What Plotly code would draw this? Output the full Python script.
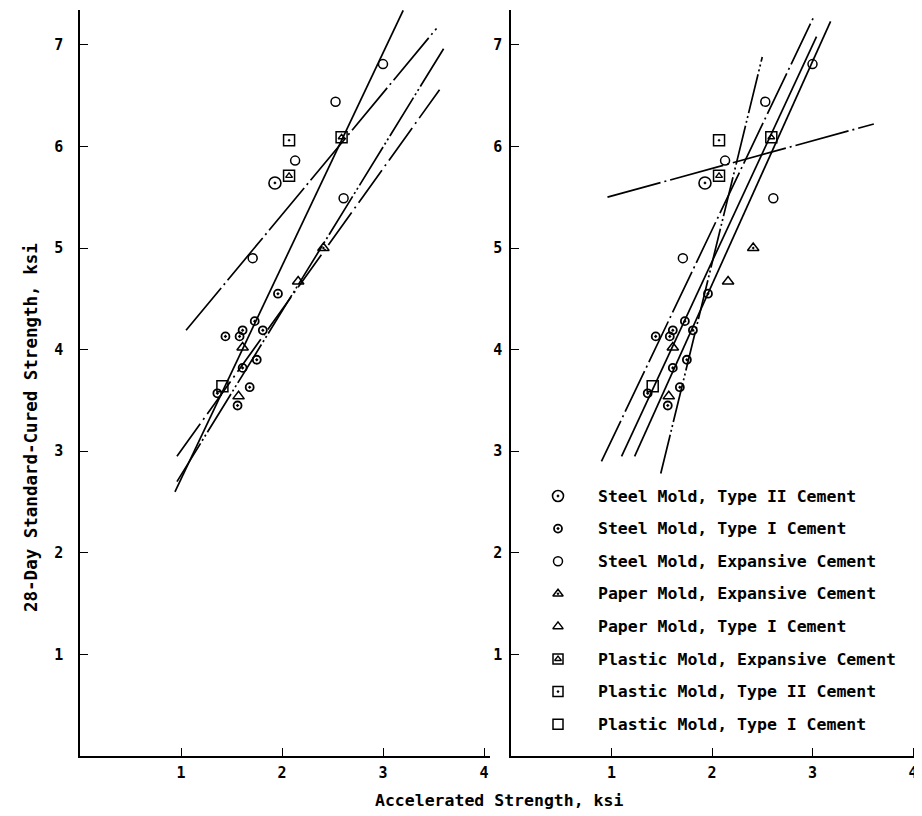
import plotly.graph_objects as go

# ---------------- data ----------------
steel_t2_x = [1.93]
steel_t2_y = [5.64]
steel_t1_x = [1.96, 1.44, 1.58, 1.61, 1.81, 1.73, 1.75, 1.61, 1.36, 1.68, 1.56]
steel_t1_y = [4.55, 4.13, 4.13, 4.19, 4.19, 4.28, 3.90, 3.82, 3.57, 3.63, 3.45]
steel_exp_x = [3.00, 2.53, 2.13, 2.61, 1.71]
steel_exp_y = [6.81, 6.44, 5.86, 5.49, 4.90]
paper_exp_x = [2.41]
paper_exp_y = [5.00]
paper_t1_x = [2.16, 1.61, 1.57]
paper_t1_y = [4.67, 4.02, 3.54]
plastic_exp_x = [2.07, 2.59]
plastic_exp_y = [5.71, 6.09]
plastic_t2_x = [2.07]
plastic_t2_y = [6.06]
plastic_t1_x = [1.41]
plastic_t1_y = [3.64]

legend_labels = [
    "Steel Mold, Type II Cement",
    "Steel Mold, Type I Cement",
    "Steel Mold, Expansive Cement",
    "Paper Mold, Expansive Cement",
    "Paper Mold, Type I Cement",
    "Plastic Mold, Expansive Cement",
    "Plastic Mold, Type II Cement",
    "Plastic Mold, Type I Cement",
]

# regression lines: x-extent, slope, intercept
left_x0 = [1.05, 0.94, 0.96, 0.96]
left_x1 = [3.53, 3.20, 3.60, 3.56]
left_slope = [1.198, 2.097, 1.614, 1.388]
left_icpt = [2.932, 0.629, 1.151, 1.617]

right_x0 = [0.96, 1.49, 0.90, 1.10, 1.23]
right_x1 = [3.61, 2.50, 3.02, 3.04, 3.18]
right_slope = [0.272, 4.059, 2.071, 2.129, 2.195]
right_icpt = [5.239, -3.268, 1.036, 0.608, 0.250]

x_ticks = [1, 2, 3, 4]
y_ticks = [1, 2, 3, 4, 5, 6, 7]

# ---------------- styles ----------------
left_dash = ["55px,4px,2px,4px", "solid", "45px,3px,2px,3px,2px,3px", "40px,5px,2px,5px"]
right_dash = ["55px,4px,2px,4px", "40px,3px,2px,3px,2px,3px", "45px,4px,2px,4px", "solid", "solid"]

series = [
    (steel_t2_x, steel_t2_y, "circle-open-dot", 12, 1.6),
    (steel_t1_x, steel_t1_y, "circle-open-dot", 8, 1.8),
    (steel_exp_x, steel_exp_y, "circle-open", 9, 1.5),
    (paper_exp_x, paper_exp_y, "triangle-up-open-dot", 10, 1.5),
    (paper_t1_x, paper_t1_y, "triangle-up-open", 10, 1.5),
    (plastic_exp_x, plastic_exp_y, "square-open", 11, 1.5),
    (plastic_t2_x, plastic_t2_y, "square-open-dot", 11, 1.5),
    (plastic_t1_x, plastic_t1_y, "square-open", 11, 1.5),
]

fig = go.Figure()

for ax in [("x", "y"), ("x2", "y2")]:
    for (xs, ys, sym, sz, lw) in series:
        fig.add_trace(go.Scatter(x=xs, y=ys, mode="markers", xaxis=ax[0], yaxis=ax[1],
                                 marker=dict(symbol=sym, size=sz, color="black",
                                             line=dict(color="black", width=lw)),
                                 showlegend=False, hoverinfo="skip"))
    # triangle inside plastic/expansive squares
    fig.add_trace(go.Scatter(x=plastic_exp_x, y=plastic_exp_y, mode="markers",
                             xaxis=ax[0], yaxis=ax[1],
                             marker=dict(symbol="triangle-up-open", size=6, color="black",
                                         line=dict(color="black", width=1.3)),
                             showlegend=False, hoverinfo="skip"))

for x0, x1, m, b, d in zip(left_x0, left_x1, left_slope, left_icpt, left_dash):
    fig.add_trace(go.Scatter(x=[x0, x1], y=[m * x0 + b, m * x1 + b], mode="lines",
                             xaxis="x", yaxis="y",
                             line=dict(color="black", width=1.7, dash=d),
                             showlegend=False, hoverinfo="skip"))
for x0, x1, m, b, d in zip(right_x0, right_x1, right_slope, right_icpt, right_dash):
    fig.add_trace(go.Scatter(x=[x0, x1], y=[m * x0 + b, m * x1 + b], mode="lines",
                             xaxis="x2", yaxis="y2",
                             line=dict(color="black", width=1.7, dash=d),
                             showlegend=False, hoverinfo="skip"))

# ---------------- geometry (screen px; page body adds an 8px offset) ----------------
OFF = 8
W, H = 922 - OFF, 816 - OFF
AX_L, AX_R, AX_T, AX_B = 80, 918, 10, 756      # screen px of plot area
L, R, T, B = AX_L - OFF, (W + OFF) - AX_R, AX_T - OFF, (H + OFF) - AX_B
pw = W - L - R
ph = H - T - B

# custom legend drawn on an overlay axis measured in screen pixels
leg_x = 558
leg_text_x = 596
leg_y0 = 496
leg_dy = 32.6
leg_rows = [leg_y0 + i * leg_dy for i in range(len(legend_labels))]
for i, (xs, ys, sym, sz, lw) in enumerate(series):
    fig.add_trace(go.Scatter(x=[leg_x], y=[leg_rows[i]], mode="markers", xaxis="x3", yaxis="y3",
                             marker=dict(symbol=sym, size=sz - 1 if sz > 9 else sz, color="black",
                                         line=dict(color="black", width=lw)),
                             showlegend=False, hoverinfo="skip"))
fig.add_trace(go.Scatter(x=[leg_x], y=[leg_rows[5]], mode="markers", xaxis="x3", yaxis="y3",
                         marker=dict(symbol="triangle-up-open", size=6, color="black",
                                     line=dict(color="black", width=1.3)),
                         showlegend=False, hoverinfo="skip"))

mono = "DejaVu Sans Mono"
annotations = []
for i, lab in enumerate(legend_labels):
    annotations.append(dict(x=leg_text_x, y=leg_rows[i], xref="x3", yref="y3", text=lab,
                            showarrow=False, xanchor="left", yanchor="middle",
                            font=dict(family=mono, size=16.5, color="black", weight="bold")))

annotations.append(dict(x=(499 - AX_L) / pw, y=(AX_B - 800) / ph, xref="paper", yref="paper",
                        text="Accelerated Strength, ksi", showarrow=False,
                        xanchor="center", yanchor="middle",
                        font=dict(family=mono, size=16.5, color="black", weight="bold")))
annotations.append(dict(x=(31 - AX_L) / pw, y=(AX_B - 428) / ph, xref="paper", yref="paper",
                        text="28-Day Standard-Cured Strength, ksi", showarrow=False,
                        textangle=-90, xanchor="center", yanchor="middle",
                        font=dict(family=mono, size=17.5, color="black", weight="bold")))

ymax = (AX_B - AX_T) / 101.6
axis_common = dict(showgrid=False, zeroline=False, showline=True, linecolor="black",
                   linewidth=1.6, ticks="inside", ticklen=8, tickwidth=1.4, tickcolor="black",
                   automargin=False,
                   tickfont=dict(family=mono, size=15, color="black", weight="bold"))

fig.update_layout(
    width=W, height=H,
    margin=dict(l=L, r=R, t=T, b=B, autoexpand=False),
    plot_bgcolor="rgba(0,0,0,0)", paper_bgcolor="white",
    showlegend=False,
    xaxis=dict(domain=[0, 410 / pw], range=[0, 410 / 101.0], tickvals=x_ticks,
               anchor="y", ticklabelstandoff=2, **axis_common),
    yaxis=dict(domain=[0, 1], range=[0, ymax], tickvals=y_ticks, anchor="x",
               ticklabelstandoff=12, **axis_common),
    xaxis2=dict(domain=[(511 - AX_L) / pw, 1], range=[0, (AX_R - 511) / 100.5], tickvals=x_ticks,
                anchor="y2", ticklabelstandoff=2, **axis_common),
    yaxis2=dict(domain=[0, 1], range=[0, ymax], tickvals=y_ticks, anchor="x2",
                ticklabelstandoff=4, **axis_common),
    xaxis3=dict(domain=[0, 1], range=[AX_L, AX_R], visible=False, anchor="y3", fixedrange=True),
    yaxis3=dict(domain=[0, 1], range=[AX_B, AX_T], visible=False, anchor="x3", fixedrange=True),
    annotations=annotations,
)

fig.write_html("out.html")
